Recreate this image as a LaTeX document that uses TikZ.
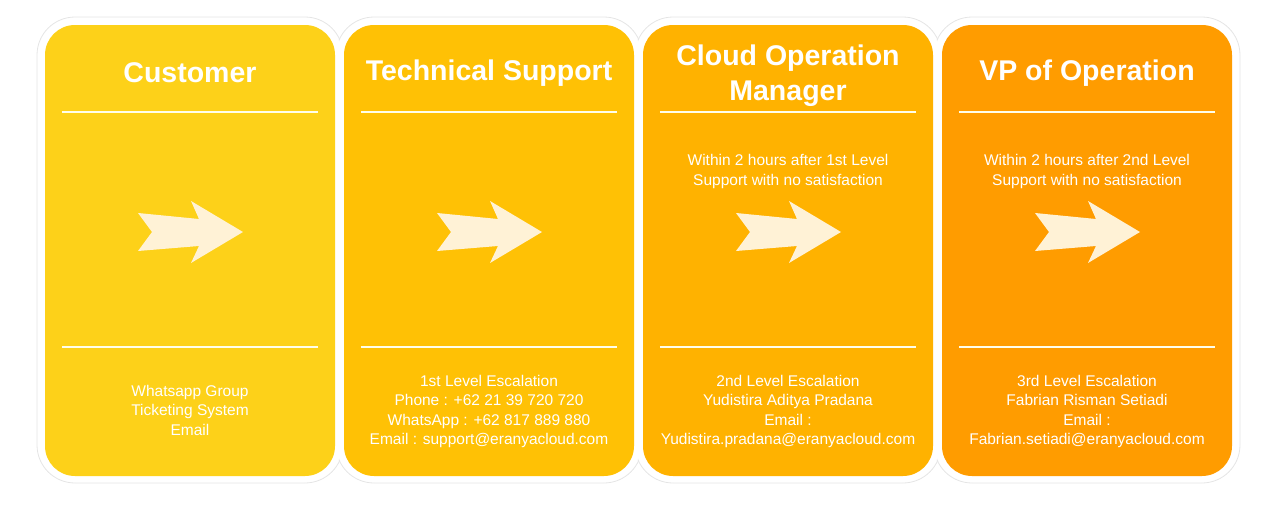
\documentclass[tikz,border=0pt]{standalone}
\usepackage{fontspec}
\setmainfont{Liberation Sans}
\begin{document}
\begin{tikzpicture}[x=1pt,y=-1pt,
  frame/.style={rounded corners=38pt, fill=white, draw=black!10, line width=0.8pt,
    minimum width=306pt, minimum height=466pt, inner sep=0pt},
  framefill/.style={rounded corners=38pt, fill=white,
    minimum width=304pt, minimum height=464pt, inner sep=0pt},
  panel/.style={rounded corners=30pt, fill=#1, minimum width=290pt,
    minimum height=451pt, inner sep=0pt},
  title/.style={text=white, font=\bfseries\fontsize{28.5}{35}\selectfont, align=center},
  body/.style={text=white, font=\fontsize{15.5}{19.5}\selectfont, align=center},
  sep/.style={draw=white!92!yellow, line width=1.6pt},
  pics/bigarrow/.style={code={
    \fill[arrowfill] (-52,-19) -- (9,-13) -- (1,-31) -- (53,0) -- (1,31)
      -- (9,14) -- (-52,19) -- (-38,0) -- cycle;}}
]
\definecolor{c1}{HTML}{FDD119}
\definecolor{c2}{HTML}{FFC105}
\definecolor{c3}{HTML}{FFB200}
\definecolor{c4}{HTML}{FF9C00}
\definecolor{arrowfill}{HTML}{FFF2D6}
\useasboundingbox (0,0) rectangle (1278,506);

% white outer frames: outlines first, then a clean fill to hide inner seams
\foreach \cx in {190,489,788,1087} \node[frame] at (\cx,250) {};
\foreach \cx in {190,489,788,1087} \node[framefill] at (\cx,250) {};

% coloured panels
\node[panel=c1] (p1) at (190,250.5) {};
\node[panel=c2] (p2) at (489,250.5) {};
\node[panel=c3] (p3) at (788,250.5) {};
\node[panel=c4] (p4) at (1087,250.5) {};

% headings
\node[title] (t1) at (190,73) {Customer};
\node[title] (t2) at (489,73) {Technical Support};
\node[title] (t3) at (788,76) {Cloud Operation\\Manager};
\node[title] (t4) at (1087,73) {VP of Operation};

% separator lines
\foreach \p in {p1,p2,p3,p4} {
  \draw[sep] ([xshift=17pt]\p.west |- 0,112) -- ([xshift=-17pt]\p.east |- 0,112);
  \draw[sep] ([xshift=17pt]\p.west |- 0,347) -- ([xshift=-17pt]\p.east |- 0,347);
}

% escalation conditions
\node[body] (m3) at (788,171.5) {Within 2 hours after 1st Level\\Support with no satisfaction};
\node[body] (m4) at (1087,171.5) {Within 2 hours after 2nd Level\\Support with no satisfaction};

% arrows
\foreach \cx in {190,489,788,1087} \pic at (\cx,232) {bigarrow};

% contact details
\node[body] (b1) at (190,410) {Whatsapp Group\\Ticketing System\\Email};
\node[body] (b2) at (489,411.5) {1st Level Escalation\\Phone : +62 21 39 720 720\\WhatsApp : +62 817 889 880\\Email : support@eranyacloud.com};
\node[body] (b3) at (788,411.5) {2nd Level Escalation\\Yudistira Aditya Pradana\\Email :\\Yudistira.pradana@eranyacloud.com};
\node[body] (b4) at (1087,411.5) {3rd Level Escalation\\Fabrian Risman Setiadi\\Email :\\Fabrian.setiadi@eranyacloud.com};
\end{tikzpicture}
\end{document}
